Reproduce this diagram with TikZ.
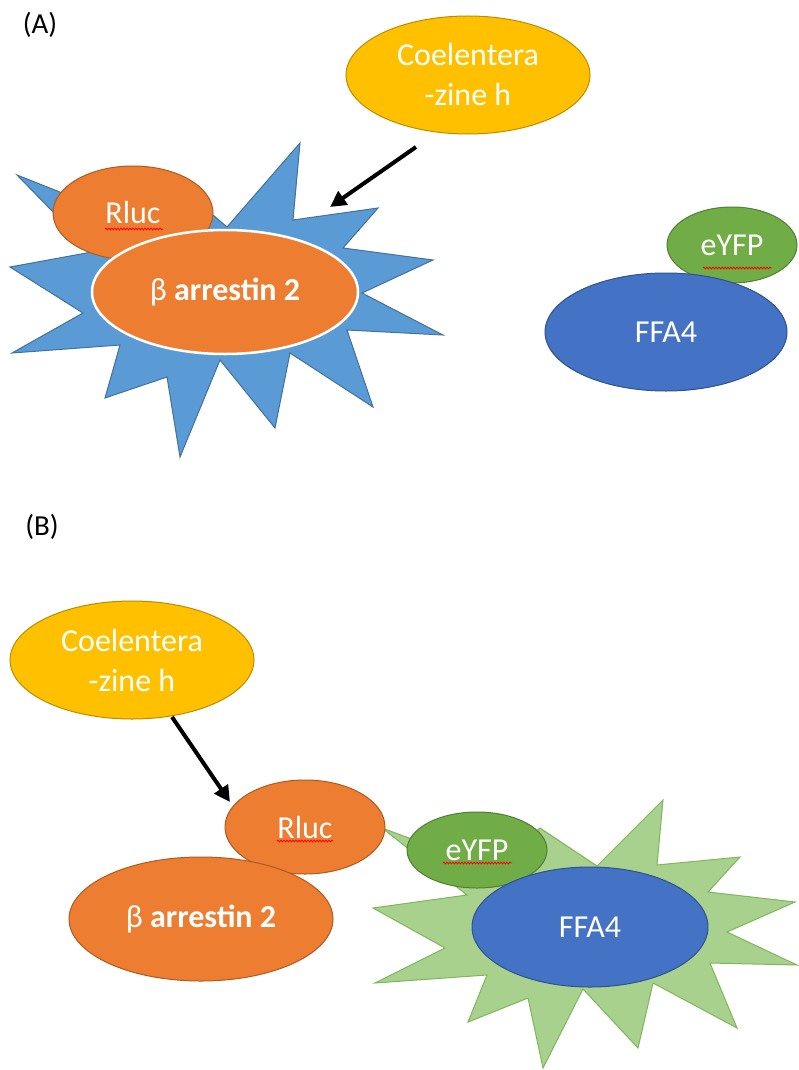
\documentclass[tikz,border=0pt]{standalone}
\usepackage{fontspec}
\setmainfont{Carlito}
\usetikzlibrary{shapes.geometric,arrows.meta,decorations.pathmorphing}
\definecolor{orF}{HTML}{ED7D31}
\definecolor{orD}{HTML}{AE5A21}
\definecolor{yeF}{HTML}{FFC000}
\definecolor{yeD}{HTML}{BC8C00}
\definecolor{grF}{HTML}{70AD47}
\definecolor{grD}{HTML}{507E32}
\definecolor{blF}{HTML}{4472C4}
\definecolor{blD}{HTML}{2F528F}
\definecolor{skF}{HTML}{5B9BD5}
\definecolor{skD}{HTML}{41719C}
\definecolor{lgF}{HTML}{A9D18E}
\definecolor{lgD}{HTML}{7FB65A}
\begin{document}
\begin{tikzpicture}[x=1pt,y=-1pt,
  blob/.style={ellipse, inner sep=0pt, line width=1pt, text=white, align=center,
    font=\fontsize{32}{40}\selectfont},
  orangeblob/.style={blob, fill=orF, draw=orD},
  yellowblob/.style={blob, fill=yeF, draw=yeD, minimum width=244pt, minimum height=118pt},
  greenblob/.style={blob, fill=grF, draw=grD},
  blueblob/.style={blob, fill=blF, draw=blD},
  bluestar/.style={fill=skF, draw=skD, line width=1pt, line join=miter},
  greenstar/.style={fill=lgF, draw=lgD, line width=1pt, line join=miter},
  panel/.style={font=\fontsize{29}{32}\selectfont, text=black, inner sep=0pt},
  pointer/.style={line width=4pt, -{Triangle[length=16pt,width=16pt]}},
  spell/.style={red, line width=0.8pt, decorate, decoration={snake, amplitude=0.9pt, segment length=3pt}}
]
\useasboundingbox (0,0) rectangle (798,1070);
\fill[white] (0,0) rectangle (798,1070);

% ---------------- (A) ----------------
\node[panel] (labA) at (40,25) {(A)};

\draw[bluestar] (17,175) -- (110,212) -- (170,178) -- (227,227) -- (300,143) -- (293,220)
  -- (378,208) -- (343,248) -- (433,260) -- (362,293) -- (443,335) -- (347,330)
  -- (373,407) -- (290,353) -- (275,428) -- (220,360) -- (180,457) -- (167,377)
  -- (105,398) -- (120,345) -- (12,353) -- (83,313) -- (10,267) -- (92,252) -- cycle;

\node[orangeblob, minimum width=160pt, minimum height=94pt] (rlucA) at (133,213) {Rluc};
\draw[spell] (105,229) -- (163,229);
\node[blob, fill=orF, draw=white, line width=2.5pt, minimum width=266pt, minimum height=124pt]
  (arrA) at (225,292) {β \textbf{arrestin 2}};

\node[yellowblob] (coelA) at (468,75) {Coelentera\\-zine h};
\coordinate (arrAs) at (416,147);
\coordinate (arrAe) at (330,207);
\draw[pointer] (arrAs) -- (arrAe);

\node[greenblob, minimum width=130pt, minimum height=76pt] (eyfpA) at (732,245) {eYFP};
\draw[spell] (703,268) -- (772,268);
\node[blueblob, minimum width=242pt, minimum height=118pt] (ffaA) at (666,332) {FFA4};

% ---------------- (B) ----------------
\node[panel] (labB) at (42,527) {(B)};

\node[yellowblob] (coelB) at (132,660) {Coelentera\\-zine h};
\coordinate (arrBs) at (172,717);
\coordinate (arrBe) at (230,802);
\draw[pointer] (arrBs) -- (arrBe);

\draw[greenstar] (382,828) -- (490,868) -- (540,828) -- (597,866) -- (663,800) -- (657,865)
  -- (740,857) -- (708,892) -- (795,902) -- (727,932) -- (797,965) -- (710,963)
  -- (737,1028) -- (653,983) -- (638,1048) -- (583,989) -- (543,1068) -- (528,998)
  -- (468,1022) -- (487,975) -- (375,983) -- (445,948) -- (373,908) -- (467,895) -- cycle;

\node[orangeblob, minimum width=160pt, minimum height=94pt] (rlucB) at (305,827) {Rluc};
\draw[spell] (277,841) -- (333,841);
\node[orangeblob, minimum width=264pt, minimum height=124pt] (arrB) at (201,919) {β \textbf{arrestin 2}};

\node[greenblob, minimum width=140pt, minimum height=76pt] (eyfpB) at (477,850) {eYFP};
\draw[spell] (443,863) -- (512,863);
\node[blueblob, minimum width=236pt, minimum height=120pt] (ffaB) at (590,927) {FFA4};
\end{tikzpicture}
\end{document}
